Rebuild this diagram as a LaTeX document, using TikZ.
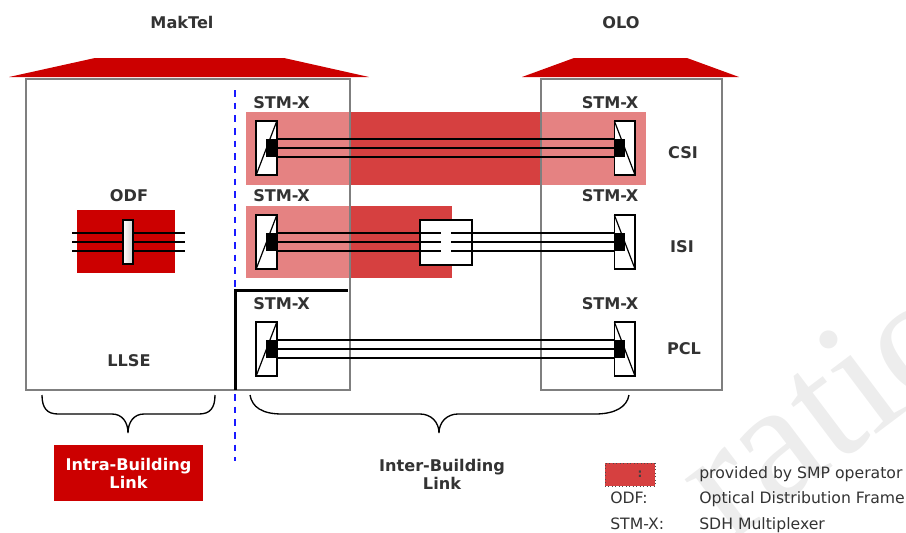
\documentclass[tikz,border=0pt]{standalone}
\usepackage{fontspec}
\setmainfont{DejaVu Sans}
\newfontfamily\wmfont{Liberation Serif}
\definecolor{roofred}{HTML}{CC0000}
\definecolor{banddark}{HTML}{D64040}
\definecolor{bandlight}{HTML}{E58282}
\definecolor{boxgray}{HTML}{7F7F7F}
\definecolor{txt}{HTML}{333333}
\definecolor{wm}{HTML}{EDEDED}
\definecolor{dashblue}{HTML}{1A1AFF}
\tikzset{
  lbl/.style={font=\fontsize{12.1}{13.5}\selectfont\bfseries,text=txt,inner sep=0pt,align=center},
  plain/.style={font=\fontsize{11.75}{13}\selectfont,text=txt,inner sep=0pt,anchor=base west},
  building/.style={draw=boxgray,line width=1.5pt,fill=white,inner sep=0pt,outer sep=0pt},
  roof/.style={fill=roofred,draw=none},
  bandd/.style={fill=banddark,draw=none},
  bandl/.style={fill=bandlight,draw=none},
  muxbox/.style={draw=black,line width=1.1pt,fill=white,minimum width=15.5pt,minimum height=40.5pt,inner sep=0pt,outer sep=0pt},
  port/.style={fill=black,minimum width=8pt,minimum height=13.5pt,inner sep=0pt,outer sep=0pt},
  fibre/.style={draw=black,line width=1.5pt},
  brace/.style={draw=black,line width=1pt},
}
\begin{document}
\begin{tikzpicture}[x=0.75pt,y=-0.75pt]
\useasboundingbox (0,0) rectangle (906,532);
% watermark
\begin{scope}
\clip (0,0) rectangle (906,532);
\node[rotate=37,anchor=base west,inner sep=0pt,text=wm,font=\fontsize{128}{128}\selectfont\wmfont] (wmark) at (729,545) {ration};
\end{scope}
% buildings
\node[building,minimum width=243pt,minimum height=233pt] (mak) at (188,234.5) {};
\node[building,minimum width=135.75pt,minimum height=233pt] (olo) at (631.5,234.5) {};
\fill[roof] (9,77) -- (95,58) -- (284,58) -- (369,77) -- cycle;
\fill[roof] (522,77) -- (574,58) -- (687,58) -- (739,77) -- cycle;
% bands
\fill[bandd] (246,112) rectangle (646,185);
\fill[bandl] (246,112) rectangle (350,185);
\fill[bandl] (541,112) rectangle (646,185);
\fill[bandd] (246,206) rectangle (452,278);
\fill[bandl] (246,206) rectangle (350,278);
\draw[boxgray,line width=1.5pt] (350,112) -- (350,185) (350,206) -- (350,278) (541,112) -- (541,185);
% demarcation
\coordinate (dtop) at (234.5,90);
\coordinate (dbot) at (234.5,461);
\draw[dashblue,line width=1.5pt,dash pattern=on 5pt off 4.5pt] (dtop) -- (dbot);
\coordinate (lA) at (235.5,390);
\coordinate (lB) at (235.5,290.5);
\coordinate (lC) at (348,290.5);
\draw[black,line width=2.8pt] (lA) -- (lB) -- (lC);
% ODF
\node[fill=roofred,minimum width=73.5pt,minimum height=47.25pt,inner sep=0pt] (odfbox) at (126,241.5) {};
\foreach \y in {233,242,251}{
  \coordinate (ol\y) at (72,\y);
  \coordinate (or\y) at (185,\y);
  \draw[fibre] (ol\y) -- (or\y);
}
\node[draw=black,line width=0.9pt,left color=white,right color=black!18,minimum width=7.5pt,minimum height=33pt,inner sep=0pt] (odfbar) at (128,242) {};
% multiplexers and links
\foreach \n/\c in {a/148,b/242,c/349}{
  \node[muxbox] (l\n) at (266.5,\c) {};
  \node[muxbox] (r\n) at (624.7,\c) {};
  \draw[line width=0.9pt] (l\n.south west) -- (l\n.north east);
  \draw[line width=0.9pt] (r\n.north west) -- (r\n.south east);
  \node[port] (lp\n) at (271.5,\c) {};
  \node[port] (rp\n) at (619.5,\c) {};
}
\foreach \n in {a,c}{
  \draw[fibre] (lp\n.north east) -- (rp\n.north west);
  \draw[fibre] (lp\n.east) -- (rp\n.west);
  \draw[fibre] (lp\n.south east) -- (rp\n.south west);
}
\node[draw=black,line width=1.4pt,fill=white,minimum width=39pt,minimum height=33.75pt,inner sep=0pt,outer sep=0pt] (splice) at (446,242.5) {};
\coordinate (s1l) at (441,233); \coordinate (s2l) at (441,242); \coordinate (s3l) at (441,251);
\coordinate (s1r) at (451,233); \coordinate (s2r) at (451,242); \coordinate (s3r) at (451,251);
\draw[fibre] (lpb.north east) -- (s1l);
\draw[fibre] (lpb.east) -- (s2l);
\draw[fibre] (lpb.south east) -- (s3l);
\draw[fibre] (s1r) -- (rpb.north west);
\draw[fibre] (s2r) -- (rpb.west);
\draw[fibre] (s3r) -- (rpb.south west);
% braces
\draw[brace] (42,395) .. controls (42,408) and (47,414) .. (58,414) -- (112,414) .. controls (122,414) and (128,422) .. (128,433) .. controls (128,422) and (134,414) .. (144,414) -- (199,414) .. controls (210,414) and (215,408) .. (215,395);
\draw[brace] (250,395) .. controls (252,407) and (262,414) .. (282,414) -- (420,414) .. controls (431,414) and (439,422) .. (439,433) .. controls (439,422) and (447,414) .. (458,414) -- (595,414) .. controls (615,414) and (627,407) .. (629,395);
% labels
\node[lbl] (tmak) at (182,22.5) {MakTel};
\node[lbl] (tolo) at (621,22.5) {OLO};
\node[lbl] (s1) at (281.5,102.5) {STM-X};
\node[lbl] (s2) at (610,102.5) {STM-X};
\node[lbl] (s3) at (281.5,195.5) {STM-X};
\node[lbl] (s4) at (610,195.5) {STM-X};
\node[lbl] (s5) at (281.5,303.5) {STM-X};
\node[lbl] (s6) at (610,303.5) {STM-X};
\node[lbl] (csi) at (683,152.5) {CSI};
\node[lbl] (isi) at (682,246.5) {ISI};
\node[lbl] (pcl) at (684,348.5) {PCL};
\node[lbl] (odf) at (129,195.5) {ODF};
\node[lbl] (llse) at (129,360.5) {LLSE};
\node[lbl,fill=roofred,text=white,minimum width=111.75pt,minimum height=42pt] (intra) at (128.5,473) {Intra-Building\\Link};
\node[lbl] (inter) at (442,474) {Inter-Building\\Link};
% legend
\node[draw=black!70,dotted,line width=0.6pt,fill=banddark,minimum width=37.5pt,minimum height=17.25pt,inner sep=0pt] (swatch) at (630,474.5) {};
\node[lbl,font=\fontsize{9}{10}\selectfont\bfseries,text=black!75] (colon) at (640,474.5) {:};
\node[plain] (k1) at (699,478) {provided by SMP operator};
\node[plain] (k2) at (610,503) {ODF:};
\node[plain] (v2) at (699,503) {Optical Distribution Frame};
\node[plain] (k3) at (610,529) {STM-X:};
\node[plain] (v3) at (699,529) {SDH Multiplexer};
\end{tikzpicture}
\end{document}
